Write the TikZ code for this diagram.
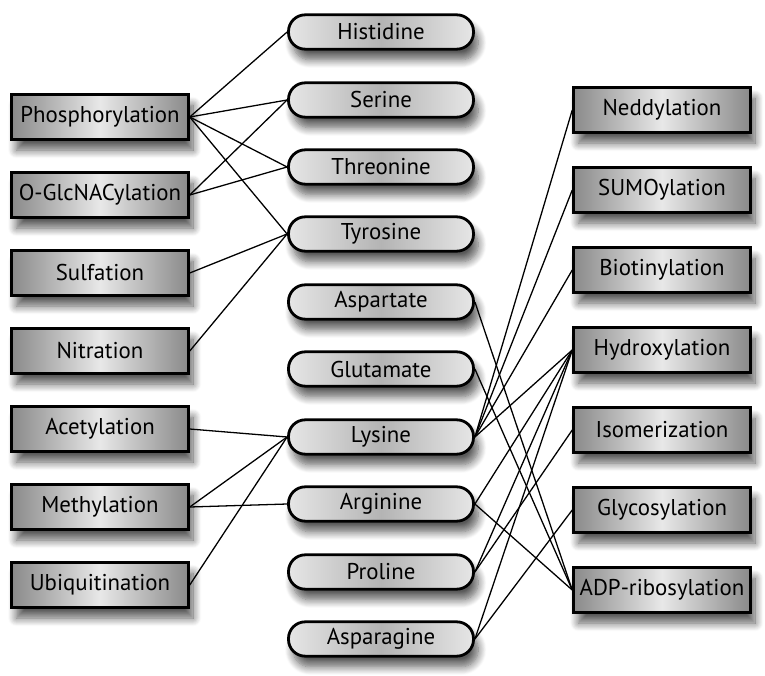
\documentclass[tikz,border=0pt]{standalone}
\usepackage{fontspec}
\setmainfont{PT Sans}
\usepackage{tikz}
\usetikzlibrary{shadows.blur}
\definecolor{box_dark}{RGB}{138,138,138}
\definecolor{box_light}{RGB}{232,232,232}
\definecolor{res_light}{RGB}{230,230,230}
\definecolor{res_dark}{RGB}{180,180,180}

\begin{document}
\begin{tikzpicture}[x=0.03cm,y=-0.03cm,line width=1.1pt]
    \tikzstyle{node}=[draw=black, line width=2.4pt, text=black, font=\fontsize{19.5}{22}\selectfont, blur shadow={shadow xshift=4pt,shadow yshift=-9pt,shadow blur radius=7pt,shadow blur steps=10,shadow opacity=65}]
    \tikzstyle{ptm}=[style=node, rectangle, minimum width=5.3cm, minimum height=1.35cm, left color=box_dark, right color=box_dark, middle color=box_light]
    \tikzstyle{aa}=[style=node, rectangle, rounded corners=0.5cm, minimum width=5.55cm, minimum height=1.03cm, left color=res_light, right color=res_light, middle color=res_dark]

    \useasboundingbox (0,0) rectangle (765,675);

    % modifications, left
    \node[ptm] (phos) at (100,117) {Phosphorylation};
    \node[ptm] (glc)  at (100,195) {O-GlcNACylation};
    \node[ptm] (sulf) at (100,273) {Sulfation};
    \node[ptm] (nitr) at (100,351) {Nitration};
    \node[ptm] (acet) at (100,429) {Acetylation};
    \node[ptm] (meth) at (100,507) {Methylation};
    \node[ptm] (ubiq) at (100,585) {Ubiquitination};

    % residues
    \node[aa] (his) at (381,32)  {Histidine};
    \node[aa] (ser) at (381,100) {Serine};
    \node[aa] (thr) at (381,167) {Threonine};
    \node[aa] (tyr) at (381,234) {Tyrosine};
    \node[aa] (asp) at (381,302) {Aspartate};
    \node[aa] (glu) at (381,369) {Glutamate};
    \node[aa] (lys) at (381,437) {Lysine};
    \node[aa] (arg) at (381,504) {Arginine};
    \node[aa] (pro) at (381,572) {Proline};
    \node[aa] (asn) at (381,639) {Asparagine};

    % modifications, right
    \node[ptm] (nedd) at (662,110) {Neddylation};
    \node[ptm] (sumo) at (662,190) {SUMOylation};
    \node[ptm] (biot) at (662,270) {Biotinylation};
    \node[ptm] (hydr) at (662,350) {Hydroxylation};
    \node[ptm] (isom) at (662,430) {Isomerization};
    \node[ptm] (glyc) at (662,510) {Glycosylation};
    \node[ptm] (adp)  at (662,590) {ADP-ribosylation};

    \path
     (phos.east) edge (his.west)
     (phos.east) edge (ser.west)
     (phos.east) edge (thr.west)
     (phos.east) edge (tyr.west)
     (glc.east)  edge (ser.west)
     (glc.east)  edge (thr.west)
     (sulf.east) edge (tyr.west)
     (nitr.east) edge (tyr.west)
     (acet.east) edge (lys.west)
     (meth.east) edge (lys.west)
     (meth.east) edge (arg.west)
     (ubiq.east) edge (lys.west)
     (lys.east)  edge (nedd.west)
     (lys.east)  edge (sumo.west)
     (lys.east)  edge (biot.west)
     (lys.east)  edge (hydr.west)
     (asp.east)  edge (adp.west)
     (glu.east)  edge (adp.west)
     (arg.east)  edge (hydr.west)
     (arg.east)  edge (adp.west)
     (pro.east)  edge (hydr.west)
     (pro.east)  edge (isom.west)
     (asn.east)  edge (hydr.west)
     (asn.east)  edge (glyc.west)
     ;
\end{tikzpicture}
\end{document}
